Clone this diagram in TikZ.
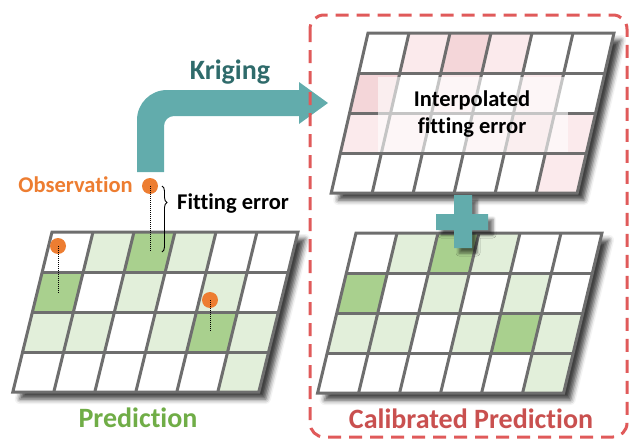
\documentclass[tikz,border=0pt]{standalone}
\usepackage{fontspec}
\setmainfont{Carlito}[RawFeature={-liga;-clig;-calt}]
\usetikzlibrary{shadows.blur,decorations.pathreplacing}
\definecolor{gridline}{HTML}{6E6E6E}
\definecolor{gL}{HTML}{E2EFDA}
\definecolor{gD}{HTML}{A9D08E}
\definecolor{pL}{HTML}{FBEAEC}
\definecolor{pD}{HTML}{F4D6D9}
\definecolor{tealA}{HTML}{62ACAC}
\definecolor{tealT}{HTML}{2F6B6B}
\definecolor{orangeA}{HTML}{ED7D31}
\definecolor{greenT}{HTML}{70AD47}
\definecolor{redT}{HTML}{C9504F}
\definecolor{redD}{HTML}{E05A5A}
\tikzset{
  gridshadow/.style={fill=white, blur shadow={shadow xshift=7pt, shadow yshift=-7pt, shadow blur radius=5pt, shadow opacity=75}},
  gridlines/.style={draw=gridline, line width=3pt},
  dotline/.style={draw=black, line width=1pt, dash pattern=on 1pt off 1pt},
  obsdot/.style={circle, fill=orangeA, minimum size=16pt, inner sep=0pt},
  bigtext/.style={font=\fontsize{28}{32}\selectfont\bfseries, inner sep=0pt},
  midtext/.style={font=\fontsize{22.5}{27}\selectfont\bfseries, inner sep=0pt},
}
\newcommand\mygrid[5]{%
 \begin{scope}[shift={(#1,#2)}]
  \path[gridshadow] (0,0) -- (246,0) -- (246-#5*160,160) -- (-#5*160,160) -- cycle;
  \foreach \r/\c/\k in {0/0/0,0/1/1,0/2/2,0/3/1,0/4/0,0/5/0,
                        1/0/2,1/1/0,1/2/1,1/3/0,1/4/1,1/5/0,
                        2/0/1,2/1/1,2/2/0,2/3/1,2/4/2,2/5/1,
                        3/0/0,3/1/0,3/2/0,3/3/0,3/4/0,3/5/1}{
    \ifnum\k=1 \fill[#3] (\c*41-\r*40*#5,\r*40) -- ++(41,0) -- ++(-40*#5,40) -- ++(-41,0) -- cycle;\fi
    \ifnum\k=2 \fill[#4] (\c*41-\r*40*#5,\r*40) -- ++(41,0) -- ++(-40*#5,40) -- ++(-41,0) -- cycle;\fi
  }
  \foreach \r in {1,2,3}{\draw[gridlines] (-\r*40*#5,\r*40) -- ++(246,0);}
  \foreach \c in {1,...,5}{\draw[gridlines] (\c*41,0) -- ++(-160*#5,160);}
  \draw[gridlines, line join=miter] (0,0) -- (246,0) -- (246-#5*160,160) -- (-#5*160,160) -- cycle;
 \end{scope}}
\begin{document}
\begin{tikzpicture}[x=1pt,y=-1pt]
\useasboundingbox (0,0) rectangle (630,439);
% grids
\mygrid{52}{232}{gL}{gD}{0.245}
\mygrid{368}{33}{pL}{pD}{0.23}
\mygrid{356}{233}{gL}{gD}{0.24}
% overlay and text on interpolated grid
\fill[white, opacity=0.6] (378,77) rectangle (568,152);
\node[midtext, align=center] (interp) at (472,114) {Interpolated\\fitting error};
% kriging arrow
\coordinate (kstart) at (150,172);
\coordinate (ktip) at (328,103);
\fill[tealA] (137,172) -- (137,120) .. controls (137,103.4) and (150.4,90) .. (167,90)
  -- (299,90) -- (299,82) -- (ktip) -- (299,124) -- (299,116) -- (174,116)
  .. controls (168.5,116) and (164,120.5) .. (164,126) -- (164,172) -- cycle;
\node[bigtext, text=tealT] (kriging) at (230,72) {Kriging};
% dashed box
\draw[redD, line width=3pt, dash pattern=on 13pt off 8pt, rounded corners=14pt] (310,15) rectangle (627,437);
% plus
\fill[tealA, blur shadow={shadow xshift=5pt, shadow yshift=-5pt, shadow blur radius=3pt, shadow opacity=55}]
  (454,195) -- (472,195) -- (472,214) -- (488,214) -- (488,230) -- (472,230) -- (472,248)
  -- (454,248) -- (454,230) -- (436,230) -- (436,214) -- (454,214) -- cycle;
% observations
\node[obsdot] (o1) at (150,186) {};
\node[obsdot] (o2) at (58,246) {};
\node[obsdot] (o3) at (210,300) {};
\coordinate (c1) at (150,252);
\coordinate (c2) at (58,293);
\coordinate (c3) at (210,331);
\draw[dotline] (o1.center) -- (c1);
\draw[dotline] (o2.center) -- (c2);
\draw[dotline] (o3.center) -- (c3);
\coordinate (b1) at (162,186);
\coordinate (b2) at (162,252);
\draw[black, line width=0.9pt, decorate, decoration={brace, amplitude=5pt, aspect=0.25}] (b1) -- (b2);
\node[midtext, text=orangeA, anchor=east] (obs) at (133,185) {Observation};
\node[midtext, anchor=west] (fit) at (177,204) {Fitting error};
% labels
\node[bigtext, text=greenT] (pred) at (138,418) {Prediction};
\node[bigtext, text=redT] (cal) at (471,419) {Calibrated Prediction};
\end{tikzpicture}
\end{document}
